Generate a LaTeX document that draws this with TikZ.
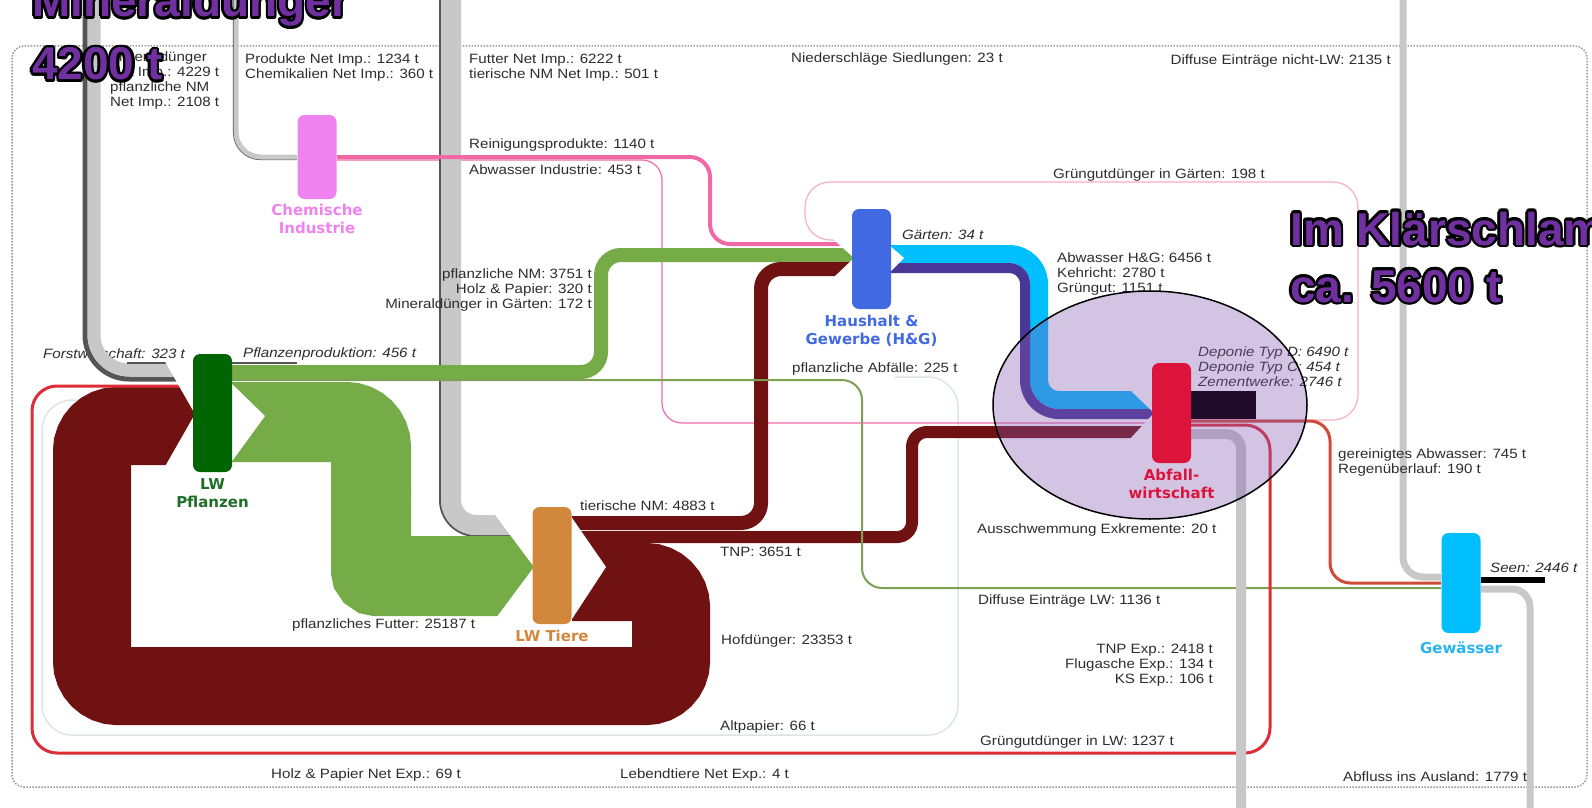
\documentclass[tikz,border=0pt]{standalone}
\usepackage{fontspec}
\setmainfont{Liberation Sans}[FakeStretch=1.12]
\newfontfamily\boxfont{DejaVu Sans}
\newfontfamily\bigfont{Liberation Sans}
\usetikzlibrary{positioning}
\definecolor{flowgreen}{RGB}{118,172,72}
\definecolor{flowbrown}{RGB}{112,18,18}
\definecolor{importgray}{RGB}{200,200,200}
\definecolor{edgegray}{RGB}{85,85,85}
\definecolor{pinkflow}{RGB}{240,105,165}
\definecolor{lightpink}{RGB}{245,175,195}
\definecolor{skyflow}{RGB}{0,191,255}
\definecolor{slateflow}{RGB}{72,55,150}
\definecolor{redflow}{RGB}{222,45,55}
\definecolor{wwtpred}{RGB}{205,75,55}
\definecolor{deponie}{RGB}{32,12,40}
\definecolor{ellfill}{RGB}{132,86,178}
\definecolor{txtgray}{RGB}{45,45,45}
\definecolor{dotgray}{RGB}{150,150,150}
\definecolor{faintline}{RGB}{220,228,230}
\definecolor{diffgreen}{RGB}{125,160,85}
\definecolor{chemcol}{RGB}{238,130,238}
\definecolor{pflcol}{RGB}{0,100,0}
\definecolor{pfltxt}{RGB}{30,110,40}
\definecolor{tierecol}{RGB}{210,136,60}
\definecolor{hgcol}{RGB}{65,105,225}
\definecolor{abfcol}{RGB}{220,20,60}
\definecolor{gewcol}{RGB}{0,191,255}
\definecolor{gewtxt}{RGB}{40,180,240}
\definecolor{klsviolet}{RGB}{112,48,160}
\begin{document}
\begin{tikzpicture}[x=1pt, y=-1pt,
  proc/.style={rounded corners=7pt, minimum width=39pt, inner sep=0pt},
  plabel/.style={font=\boxfont\bfseries\fontsize{15}{18}\selectfont, align=center, inner sep=0pt},
  lbl/.style={font=\fontsize{13.5}{15}\selectfont, text=txtgray, inner sep=0pt, anchor=west, align=left},
  lbli/.style={lbl, font=\itshape\fontsize{13.5}{15}\selectfont},
  lblr/.style={lbl, anchor=east, align=right},
  bigtxt/.style={font=\bigfont\bfseries\fontsize{46}{52}\selectfont, anchor=base west, inner sep=0pt}]
  \useasboundingbox (0,0) rectangle (1592,808);
  \draw[dotgray, line width=1.5pt, dash pattern=on 1.5pt off 1.5pt, rounded corners=12pt] (12,46) rectangle (1587,787);
  \node[lbli] (forst) at (43,354) {Forstwirtschaft: 323 t};

  \draw[faintline, line width=1.5pt, rounded corners=30pt] (895,377) -- (958,377) -- (958,735) -- (42,735) -- (42,400) -- (194,400);
  \draw[pinkflow, line width=1.2pt, rounded corners=20pt] (337,160) -- (662,160) -- (662,423) -- (1153,423);
  \draw[lightpink, line width=1.2pt, rounded corners=25pt] (1191,420) -- (1358,420) -- (1358,182) -- (805,182) -- (805,240) -- (853,240);

  \draw[edgegray, line width=5pt, rounded corners=44pt] (85,-10) -- (85,379) -- (194,379);
  \draw[importgray, line width=13pt, rounded corners=35pt] (94,-10) -- (94,370) -- (194,370);
  \draw[edgegray, line width=1.2pt, rounded corners=27pt] (233.5,-10) -- (233.5,159.5) -- (297,159.5);
  \draw[importgray, line width=5pt, rounded corners=25pt] (236,-10) -- (236,157) -- (297,157);
  \draw[edgegray, line width=2pt, rounded corners=36pt] (440,-10) -- (440,536) -- (533,536);
  \draw[importgray, line width=20pt, rounded corners=25pt] (451,-10) -- (451,525) -- (533,525);

  \draw[flowbrown, line width=78pt, rounded corners=25pt] (572,582) -- (671,582) -- (671,686) -- (92,686) -- (92,426) -- (194,426);
  \draw[flowgreen, line width=80pt, rounded corners=25pt] (232,422) -- (371,422) -- (371,500);
  \draw[flowgreen, line width=80pt, rounded corners=6pt] (371,490) -- (371,576) -- (533,576);

  \draw[flowgreen, line width=14pt, rounded corners=20pt] (232,372) -- (601,372) -- (601,255) -- (853,255);
  \draw[flowbrown, line width=14pt, rounded corners=20pt] (572,523) -- (761,523) -- (761,269) -- (853,269);
  \draw[flowbrown, line width=12pt, rounded corners=15pt] (572,537) -- (912,537) -- (912,432) -- (1153,432);
  \draw[pinkflow, line width=4pt, rounded corners=20pt] (337,157) -- (710,157) -- (710,244) -- (853,244);
  \draw[skyflow, line width=18pt, rounded corners=30pt] (891,254) -- (1039,254) -- (1039,330);
  \draw[skyflow, line width=18pt, rounded corners=20pt] (1039,320) -- (1039,400) -- (1153,400);
  \draw[slateflow, line width=10pt, rounded corners=16pt] (891,268) -- (1025,268) -- (1025,330);
  \draw[slateflow, line width=10pt, rounded corners=34pt] (1025,320) -- (1025,414) -- (1153,414);

  \draw[diffgreen, line width=2pt, rounded corners=20pt] (232,380) -- (862,380) -- (862,588) -- (1441,588);
  \draw[redflow, line width=3pt, rounded corners=25pt] (1191,425) -- (1270,425) -- (1270,753) -- (32,753) -- (32,386) -- (194,386);
  \draw[wwtpred, line width=3pt, rounded corners=20pt] (1191,421) -- (1330,421) -- (1330,583) -- (1441,583);
  \draw[importgray, line width=10pt, rounded corners=15pt] (1191,434) -- (1241,434) -- (1241,815);
  \draw[importgray, line width=7pt, rounded corners=20pt] (1403,-10) -- (1403,577) -- (1441,577);
  \draw[importgray, line width=7pt, rounded corners=18pt] (1481,589) -- (1530,589) -- (1530,815);
  \fill[black] (1481,577) rectangle (1545,583);
  \draw[edgegray, line width=1.5pt] (127,363) -- (182,363);
  \draw[edgegray, line width=1.5pt] (232,363) -- (297,363);

  \fill[white] (163,358) -- (195,358) -- (195,414) -- cycle;
  \fill[white] (163,470) -- (195,470) -- (195,414) -- cycle;
  \fill[white] (493,512) -- (534,512) -- (534,567) -- cycle;
  \fill[white] (493,622) -- (534,622) -- (534,567) -- cycle;
  \fill[white] (833,239) -- (854,239) -- (854,258) -- cycle;
  \fill[white] (833,278) -- (854,278) -- (854,258) -- cycle;
  \fill[white] (1128,388) -- (1154,388) -- (1154,413) -- cycle;
  \fill[white] (1128,441) -- (1154,441) -- (1154,413) -- cycle;
  \fill[white] (230,382) -- (265,416) -- (230,464) -- cycle;
  \fill[white] (570,515) -- (606,567) -- (570,622) -- cycle;
  \fill[white] (889,245) -- (904,258) -- (889,273) -- cycle;

  \node[lbl] (mdimp) at (110,81) {Mineraldünger\\Net Imp.: 4229 t\\pflanzliche NM\\Net Imp.: 2108 t};
  \node[lbl] (chemimp) at (245,68) {Produkte Net Imp.: 1234 t\\Chemikalien Net Imp.: 360 t};
  \node[lbl] (futimp) at (469,68) {Futter Net Imp.: 6222 t\\tierische NM Net Imp.: 501 t};
  \node[lbl] (nieder) at (791,59) {Niederschläge Siedlungen: 23 t};
  \node[lblr] (diffnlw) at (1391,61) {Diffuse Einträge nicht-LW: 2135 t};
  \node[lbl] (reinig) at (469,145) {Reinigungsprodukte: 1140 t};
  \node[lbl] (abwind) at (469,170) {Abwasser Industrie: 453 t};
  \node[lbl] (gggart) at (1053,175) {Grüngutdünger in Gärten: 198 t};
  \node[lbli] (gaerten) at (902,235) {Gärten: 34 t};
  \node[lbl] (abwhg) at (1057,274) {Abwasser H\&G: 6456 t\\Kehricht: 2780 t\\Grüngut: 1151 t};
  \node[lblr] (pflnm) at (592,290) {pflanzliche NM: 3751 t\\Holz \& Papier: 320 t\\Mineraldünger in Gärten: 172 t};
  \node[lbli] (pflprod) at (243,354) {Pflanzenproduktion: 456 t};
  \node[lbl] (pflabf) at (792,369) {pflanzliche Abfälle: 225 t};
  \node[lbli] (depon) at (1198,367) {Deponie Typ D: 6490 t\\Deponie Typ C: 454 t\\Zementwerke: 2746 t};
  \node[lbl] (gerein) at (1338,463) {gereinigtes Abwasser: 745 t\\Regenüberlauf: 190 t};
  \node[lbl] (tiernm) at (580,506) {tierische NM: 4883 t};
  \node[lbl] (tnp) at (720,552) {TNP: 3651 t};
  \node[lbl] (aussch) at (977,530) {Ausschwemmung Exkremente: 20 t};
  \node[lbli] (seen) at (1490,568) {Seen: 2446 t};
  \node[lbl] (difflw) at (978,601) {Diffuse Einträge LW: 1136 t};
  \node[lbl] (futter) at (292,625) {pflanzliches Futter: 25187 t};
  \node[lbl] (hofd) at (721,641) {Hofdünger: 23353 t};
  \node[lblr] (tnpexp) at (1213,665) {TNP Exp.: 2418 t\\Flugasche Exp.: 134 t\\KS Exp.: 106 t};
  \node[lbl] (altpap) at (720,727) {Altpapier: 66 t};
  \node[lbl] (gglw) at (980,742) {Grüngutdünger in LW: 1237 t};
  \node[lbl] (holzexp) at (271,775) {Holz \& Papier Net Exp.: 69 t};
  \node[lbl] (lebexp) at (620,775) {Lebendtiere Net Exp.: 4 t};
  \node[lbl] (abfluss) at (1343,777) {Abfluss ins Ausland: 1779 t};

  \draw[black, line width=1.5pt, fill=ellfill, fill opacity=0.35] (1150,405) ellipse [x radius=157pt, y radius=114pt];
  \fill[deponie] (1191,391) rectangle (1256,419);

  \node[proc, fill=chemcol, minimum height=84pt] (chem) at (317,157) {};
  \node[proc, fill=pflcol, minimum height=118pt] (pfl) at (212.5,413) {};
  \node[proc, fill=tierecol, minimum height=117pt] (tiere) at (552,565.5) {};
  \node[proc, fill=hgcol, minimum height=100pt] (hg) at (871.5,259) {};
  \node[proc, fill=abfcol, minimum height=100pt] (abf) at (1171.5,413) {};
  \node[proc, fill=gewcol, minimum height=100pt] (gew) at (1461,583) {};
  \node[plabel, text=chemcol, below=5pt of chem] (chemlbl) {Chemische\\Industrie};
  \node[plabel, text=pfltxt, below=6pt of pfl] (pfllbl) {LW\\Pflanzen};
  \node[plabel, text=tierecol, below=6pt of tiere] (tierelbl) {LW Tiere};
  \node[plabel, text=hgcol, below=6pt of hg] (hglbl) {Haushalt \&\\Gewerbe (H\&G)};
  \node[plabel, text=abfcol, below=6pt of abf] (abflbl) {Abfall-\\wirtschaft};
  \node[plabel, text=gewtxt, below=8pt of gew] (gewlbl) {Gewässer};

  \foreach \a in {0,30,...,330} {
    \node[bigtxt, text=black, shift={(\a:2.4)}] at (32,17) {Mineraldünger};
    \node[bigtxt, text=black, shift={(\a:2.4)}] at (32,80) {4200 t};
    \node[bigtxt, text=black, shift={(\a:2.4)}] at (1290,245) {Im Klärschlamm};
    \node[bigtxt, text=black, shift={(\a:2.4)}] at (1290,302) {ca. 5600 t};
  }
  \node[bigtxt, text=klsviolet] (mdtitle) at (32,17) {Mineraldünger};
  \node[bigtxt, text=klsviolet] (mdvalue) at (32,80) {4200 t};
  \node[bigtxt, text=klsviolet] (kstitle) at (1290,245) {Im Klärschlamm};
  \node[bigtxt, text=klsviolet] (ksvalue) at (1290,302) {ca. 5600 t};
\end{tikzpicture}
\end{document}
